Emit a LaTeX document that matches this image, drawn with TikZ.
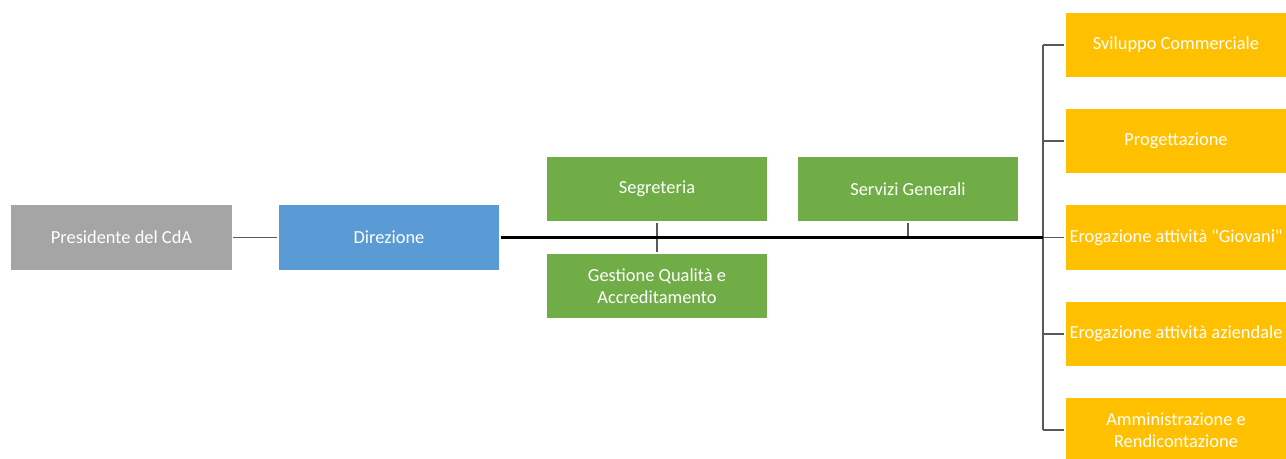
\documentclass[tikz,border=0pt]{standalone}
\usepackage{fontspec}
\setmainfont{Carlito}[Ligatures=TeXOff]
\definecolor{grigio}{HTML}{A5A5A5}
\definecolor{blu}{HTML}{5B9BD5}
\definecolor{verde}{HTML}{70AD47}
\definecolor{arancio}{HTML}{FFC000}
\definecolor{linea}{HTML}{595959}
\begin{document}
\begin{tikzpicture}[x=0.75pt,y=-0.75pt,
  box/.style={draw=white,line width=0.8pt,text=white,minimum width=166.5pt,minimum height=49.5pt,inner sep=0pt,align=center,font=\fontsize{13.8}{16.5}\selectfont},
  ramo/.style={linea,line width=1.4pt},
  asse/.style={black,line width=2pt}]
\clip (0,0) rectangle (1286,459);
\def\xdx{1176}
\def\xv{1043}

\node[box,fill=grigio] (pres) at (121.5,237.5) {Presidente del CdA};
\node[box,fill=blu] (dir) at (389,237.5) {Direzione};
\node[box,fill=verde] (segr) at (657,189) {Segreteria};
\node[box,fill=verde] (qual) at (657,286) {Gestione Qualità e\\Accreditamento};
\node[box,fill=verde] (serv) at (908,189) {Servizi Generali};

\node[box,fill=arancio] (svil) at (\xdx,45) {Sviluppo Commerciale};
\node[box,fill=arancio] (prog) at (\xdx,141) {Progettazione};
\node[box,fill=arancio] (giov) at (\xdx,237.5) {Erogazione attività "Giovani"};
\node[box,fill=arancio] (azie) at (\xdx,334) {Erogazione attività aziendale};
\node[box,fill=arancio] (ammi) at (\xdx,430) {Amministrazione e\\Rendicontazione};

\coordinate (nodo) at (\xv,237.5);
\coordinate (alto) at (\xv,45);
\coordinate (basso) at (\xv,430);

\draw[ramo] (pres) -- (dir);
\draw[ramo] (segr) -- (qual);
\draw[ramo] (serv.south) -- (serv.south |- nodo);
\draw[ramo] (alto) -- (basso);
\foreach \n in {svil,prog,giov,azie,ammi}
  \draw[ramo] (\n.west) -- (\n.west -| nodo);
\draw[asse] (dir) -- (nodo);

\end{tikzpicture}
\end{document}
